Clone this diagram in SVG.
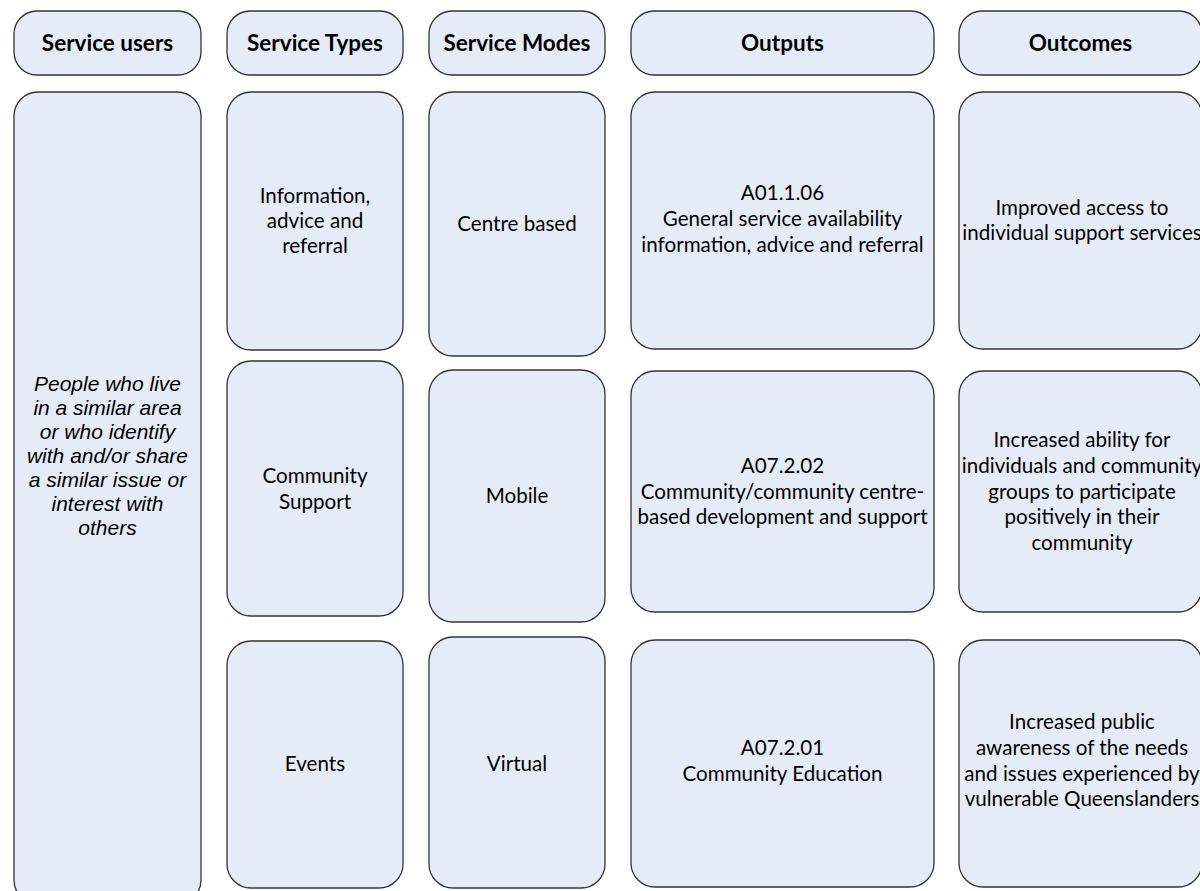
<svg xmlns="http://www.w3.org/2000/svg" width="1200" height="891" viewBox="0 0 1200 891">
<style>
.b{fill:#E6ECF7;stroke:#333;stroke-width:1.3}
.h{font-family:Lato,"Liberation Sans",sans-serif;font-weight:bold;font-size:22.5px;fill:#000;text-anchor:middle}
.t{font-family:Lato,"Liberation Sans",sans-serif;font-size:20.6px;fill:#000;text-anchor:middle}
.i{font-family:"Liberation Sans",Arial,sans-serif;font-style:italic;font-size:21px;fill:#000;text-anchor:middle}
</style>
<rect width="1200" height="891" fill="#fff"/>
<g id="h-users"><rect class="b" x="14" y="11" width="187" height="64" rx="23"/><text class="h" x="107.5" y="51">Service users</text></g>
<g id="h-types"><rect class="b" x="227" y="11" width="176" height="64" rx="23"/><text class="h" x="315" y="51">Service Types</text></g>
<g id="h-modes"><rect class="b" x="429" y="11" width="176" height="64" rx="23"/><text class="h" x="517" y="51">Service Modes</text></g>
<g id="h-outputs"><rect class="b" x="631" y="11" width="303" height="64" rx="23"/><text class="h" x="782.5" y="51">Outputs</text></g>
<g id="h-outcomes"><rect class="b" x="959" y="11" width="243" height="64" rx="23"/><text class="h" x="1080.5" y="51">Outcomes</text></g>

<g id="users"><rect class="b" x="14" y="92" width="187" height="812" rx="24"/>
<text class="i" x="107.5"><tspan x="107.5" y="391">People who live</tspan><tspan x="107.5" y="415">in a similar area</tspan><tspan x="107.5" y="439">or who identify</tspan><tspan x="107.5" y="463">with and/or share</tspan><tspan x="107.5" y="487">a similar issue or</tspan><tspan x="107.5" y="511">interest with</tspan><tspan x="107.5" y="535">others</tspan></text></g>

<g id="type1"><rect class="b" x="227" y="92" width="176" height="258" rx="24"/>
<text class="t"><tspan x="315" y="203">Information,</tspan><tspan x="315" y="228">advice and</tspan><tspan x="315" y="253">referral</tspan></text></g>
<g id="type2"><rect class="b" x="227" y="361" width="176" height="255" rx="24"/>
<text class="t"><tspan x="315" y="483">Community</tspan><tspan x="315" y="509">Support</tspan></text></g>
<g id="type3"><rect class="b" x="227" y="641" width="176" height="247" rx="24"/>
<text class="t" x="315" y="771">Events</text></g>

<g id="mode1"><rect class="b" x="429" y="92" width="176" height="264" rx="24"/>
<text class="t" x="517" y="231">Centre based</text></g>
<g id="mode2"><rect class="b" x="429" y="370" width="176" height="252" rx="24"/>
<text class="t" x="517" y="503">Mobile</text></g>
<g id="mode3"><rect class="b" x="429" y="637" width="176" height="251" rx="24"/>
<text class="t" x="517" y="771">Virtual</text></g>

<g id="out1"><rect class="b" x="631" y="92" width="303" height="257" rx="24"/>
<text class="t"><tspan x="782.5" y="200">A01.1.06</tspan><tspan x="782.5" y="226">General service availability</tspan><tspan x="782.5" y="252">information, advice and referral</tspan></text></g>
<g id="out2"><rect class="b" x="631" y="371" width="303" height="241" rx="24"/>
<text class="t"><tspan x="782.5" y="473">A07.2.02</tspan><tspan x="782.5" y="499">Community/community centre-</tspan><tspan x="782.5" y="524">based development and support</tspan></text></g>
<g id="out3"><rect class="b" x="631" y="640" width="303" height="247" rx="24"/>
<text class="t"><tspan x="782.5" y="755">A07.2.01</tspan><tspan x="782.5" y="781">Community Education</tspan></text></g>

<g id="oc1"><rect class="b" x="959" y="92" width="243" height="257" rx="24"/>
<text class="t"><tspan x="1082" y="215">Improved access to</tspan><tspan x="1082" y="240">individual support services</tspan></text></g>
<g id="oc2"><rect class="b" x="959" y="371" width="243" height="241" rx="24"/>
<text class="t"><tspan x="1082" y="447">Increased ability for</tspan><tspan x="1082" y="473">individuals and community</tspan><tspan x="1082" y="498.5">groups to participate</tspan><tspan x="1082" y="524">positively in their</tspan><tspan x="1082" y="550">community</tspan></text></g>
<g id="oc3"><rect class="b" x="959" y="640" width="243" height="247" rx="24"/>
<text class="t"><tspan x="1082" y="729">Increased public</tspan><tspan x="1082" y="755">awareness of the needs</tspan><tspan x="1082" y="781">and issues experienced by</tspan><tspan x="1082" y="806">vulnerable Queenslanders</tspan></text></g>
<g id="connectors"/>
</svg>
